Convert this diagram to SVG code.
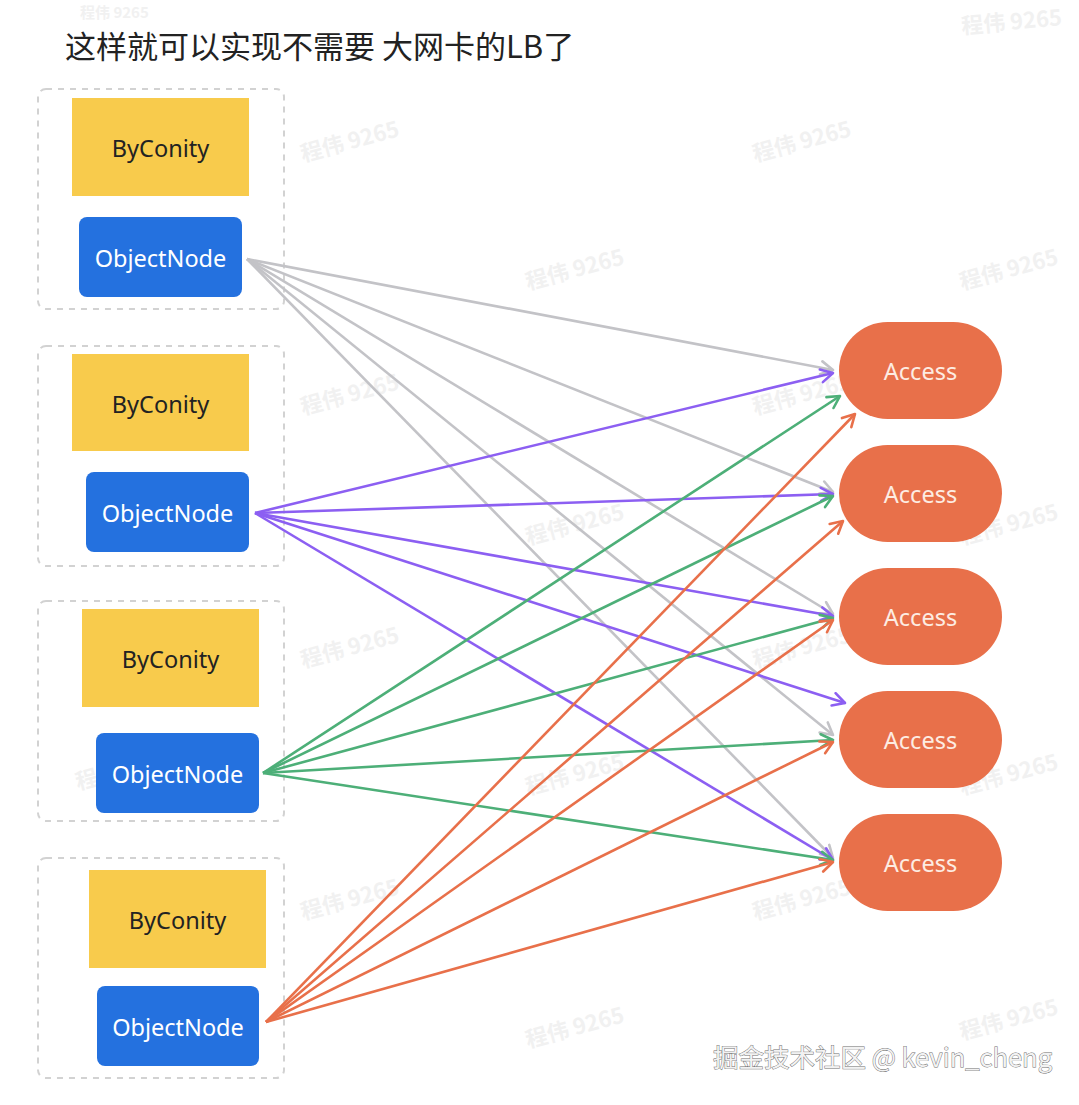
<svg xmlns="http://www.w3.org/2000/svg" width="1079" height="1105" viewBox="0 0 1079 1105">
<style>
.wm{font-family:"Noto Sans CJK SC","Noto Sans",sans-serif;font-size:22px;fill:#f1f1f1;font-weight:700}
.grp{fill:none;stroke:#d2d2d2;stroke-width:2;stroke-dasharray:6 6}
.bc{fill:#F8CB4C}
.on{fill:#2471DF}
.ac{fill:#E8704A}
.lbl{font-family:"Noto Sans","Open Sans",sans-serif;font-size:23.5px;text-anchor:middle;dominant-baseline:central}
.dk{fill:#222}
.wt{fill:#fff}
.at{fill:#fdece2}
.c{fill:none;stroke-width:2.6}
.g{stroke:#c3c3c7}
.p{stroke:#8C5FF2}
.n{stroke:#4DAF78}
.o{stroke:#E8704A}
</style>
<defs>
<marker id="mg" viewBox="0 0 16 16" refX="14" refY="8" markerWidth="16" markerHeight="16" markerUnits="userSpaceOnUse" orient="auto"><path d="M2,1.5 L14,8 L2,14.5" fill="none" stroke="#c3c3c7" stroke-width="2.6" stroke-linecap="round" stroke-linejoin="round"/></marker>
<marker id="mp" viewBox="0 0 16 16" refX="14" refY="8" markerWidth="16" markerHeight="16" markerUnits="userSpaceOnUse" orient="auto"><path d="M2,1.5 L14,8 L2,14.5" fill="none" stroke="#8C5FF2" stroke-width="2.6" stroke-linecap="round" stroke-linejoin="round"/></marker>
<marker id="mn" viewBox="0 0 16 16" refX="14" refY="8" markerWidth="16" markerHeight="16" markerUnits="userSpaceOnUse" orient="auto"><path d="M2,1.5 L14,8 L2,14.5" fill="none" stroke="#4DAF78" stroke-width="2.6" stroke-linecap="round" stroke-linejoin="round"/></marker>
<marker id="mo" viewBox="0 0 16 16" refX="14" refY="8" markerWidth="16" markerHeight="16" markerUnits="userSpaceOnUse" orient="auto"><path d="M2,1.5 L14,8 L2,14.5" fill="none" stroke="#E8704A" stroke-width="2.6" stroke-linecap="round" stroke-linejoin="round"/></marker>
</defs>
<rect width="1079" height="1105" fill="#fff"/>
<g id="watermarks">
<text class="wm" x="80" y="17.5" style="font-size:15px">程伟 9265</text>
<text class="wm" x="962" y="34" transform="rotate(-5 962 34)">程伟 9265</text>
<text class="wm" x="303" y="162" transform="rotate(-15 303 162)">程伟 9265</text>
<text class="wm" x="755" y="162" transform="rotate(-15 755 162)">程伟 9265</text>
<text class="wm" x="528" y="290" transform="rotate(-15 528 290)">程伟 9265</text>
<text class="wm" x="962" y="290" transform="rotate(-15 962 290)">程伟 9265</text>
<text class="wm" x="303" y="415" transform="rotate(-15 303 415)">程伟 9265</text>
<text class="wm" x="755" y="415" transform="rotate(-15 755 415)">程伟 9265</text>
<text class="wm" x="528" y="545" transform="rotate(-15 528 545)">程伟 9265</text>
<text class="wm" x="962" y="545" transform="rotate(-15 962 545)">程伟 9265</text>
<text class="wm" x="303" y="668" transform="rotate(-15 303 668)">程伟 9265</text>
<text class="wm" x="755" y="668" transform="rotate(-15 755 668)">程伟 9265</text>
<text class="wm" x="78" y="790" transform="rotate(-15 78 790)">程伟 9265</text>
<text class="wm" x="528" y="795" transform="rotate(-15 528 795)">程伟 9265</text>
<text class="wm" x="962" y="795" transform="rotate(-15 962 795)">程伟 9265</text>
<text class="wm" x="303" y="920" transform="rotate(-15 303 920)">程伟 9265</text>
<text class="wm" x="755" y="920" transform="rotate(-15 755 920)">程伟 9265</text>
<text class="wm" x="528" y="1048" transform="rotate(-15 528 1048)">程伟 9265</text>
<text class="wm" x="962" y="1040" transform="rotate(-15 962 1040)">程伟 9265</text>
</g>
<text id="title" x="65" y="58" font-family="'Noto Sans CJK SC','Noto Sans',sans-serif" font-size="31" fill="#222">这样就可以实现不需要 大网卡的LB了</text>
<g id="group1">
<rect class="grp" x="38" y="89" width="246" height="220" rx="8"/>
<g id="byconity1"><rect class="bc" x="72" y="98" width="177" height="98"/><text class="lbl dk" x="160.5" y="148">ByConity</text></g>
<g id="objectnode1"><rect class="on" x="79" y="217" width="163" height="80" rx="8"/><text class="lbl wt" x="160.5" y="258">ObjectNode</text></g>
</g>
<g id="group2">
<rect class="grp" x="38" y="346" width="246" height="220" rx="8"/>
<g id="byconity2"><rect class="bc" x="72" y="354" width="177" height="97"/><text class="lbl dk" x="160.5" y="404">ByConity</text></g>
<g id="objectnode2"><rect class="on" x="86" y="472" width="163" height="80" rx="8"/><text class="lbl wt" x="167.5" y="513">ObjectNode</text></g>
</g>
<g id="group3">
<rect class="grp" x="38" y="601" width="246" height="220" rx="8"/>
<g id="byconity3"><rect class="bc" x="82" y="609" width="177" height="98"/><text class="lbl dk" x="170.5" y="659">ByConity</text></g>
<g id="objectnode3"><rect class="on" x="96" y="733" width="163" height="80" rx="8"/><text class="lbl wt" x="177.5" y="774">ObjectNode</text></g>
</g>
<g id="group4">
<rect class="grp" x="38" y="858" width="246" height="220" rx="8"/>
<g id="byconity4"><rect class="bc" x="89" y="870" width="177" height="98"/><text class="lbl dk" x="177.5" y="920">ByConity</text></g>
<g id="objectnode4"><rect class="on" x="97" y="986" width="162" height="80" rx="8"/><text class="lbl wt" x="178" y="1027">ObjectNode</text></g>
</g>
<g id="access1"><rect class="ac" x="839" y="322" width="163" height="97" rx="48.5"/><text class="lbl at" x="920.5" y="371">Access</text></g>
<g id="access2"><rect class="ac" x="839" y="445" width="163" height="97" rx="48.5"/><text class="lbl at" x="920.5" y="494">Access</text></g>
<g id="access3"><rect class="ac" x="839" y="568" width="163" height="97" rx="48.5"/><text class="lbl at" x="920.5" y="617">Access</text></g>
<g id="access4"><rect class="ac" x="839" y="691" width="163" height="97" rx="48.5"/><text class="lbl at" x="920.5" y="740">Access</text></g>
<g id="access5"><rect class="ac" x="839" y="814" width="163" height="97" rx="48.5"/><text class="lbl at" x="920.5" y="863">Access</text></g>
<g id="connectors">
<line class="c g" x1="247" y1="259" x2="833" y2="370" marker-end="url(#mg)"/>
<line class="c g" x1="247" y1="259" x2="833" y2="492" marker-end="url(#mg)"/>
<line class="c g" x1="247" y1="259" x2="833" y2="614" marker-end="url(#mg)"/>
<line class="c g" x1="247" y1="259" x2="833" y2="735" marker-end="url(#mg)"/>
<line class="c g" x1="247" y1="259" x2="833" y2="858" marker-end="url(#mg)"/>
<line class="c p" x1="255" y1="513" x2="833" y2="373" marker-end="url(#mp)"/>
<line class="c p" x1="255" y1="513" x2="833" y2="494" marker-end="url(#mp)"/>
<line class="c p" x1="255" y1="513" x2="833" y2="616" marker-end="url(#mp)"/>
<line class="c p" x1="255" y1="513" x2="845" y2="703" marker-end="url(#mp)"/>
<line class="c p" x1="255" y1="513" x2="833" y2="860" marker-end="url(#mp)"/>
<line class="c n" x1="263" y1="773" x2="840" y2="396" marker-end="url(#mn)"/>
<line class="c n" x1="263" y1="773" x2="833" y2="496" marker-end="url(#mn)"/>
<line class="c n" x1="263" y1="773" x2="833" y2="618" marker-end="url(#mn)"/>
<line class="c n" x1="263" y1="773" x2="833" y2="740" marker-end="url(#mn)"/>
<line class="c n" x1="263" y1="773" x2="833" y2="860" marker-end="url(#mn)"/>
<line class="c o" x1="266" y1="1022" x2="855" y2="414" marker-end="url(#mo)"/>
<line class="c o" x1="266" y1="1022" x2="843" y2="521" marker-end="url(#mo)"/>
<line class="c o" x1="266" y1="1022" x2="833" y2="620" marker-end="url(#mo)"/>
<line class="c o" x1="266" y1="1022" x2="833" y2="742" marker-end="url(#mo)"/>
<line class="c o" x1="266" y1="1022" x2="833" y2="862" marker-end="url(#mo)"/>
</g>
<text id="credit" x="713" y="1067" font-family="'Noto Sans CJK SC','Noto Sans',sans-serif" font-size="25.5" fill="#f2f2f2" stroke="#6e6e6e" stroke-width="0.9" paint-order="stroke">掘金技术社区 @ kevin_cheng</text>
</svg>
